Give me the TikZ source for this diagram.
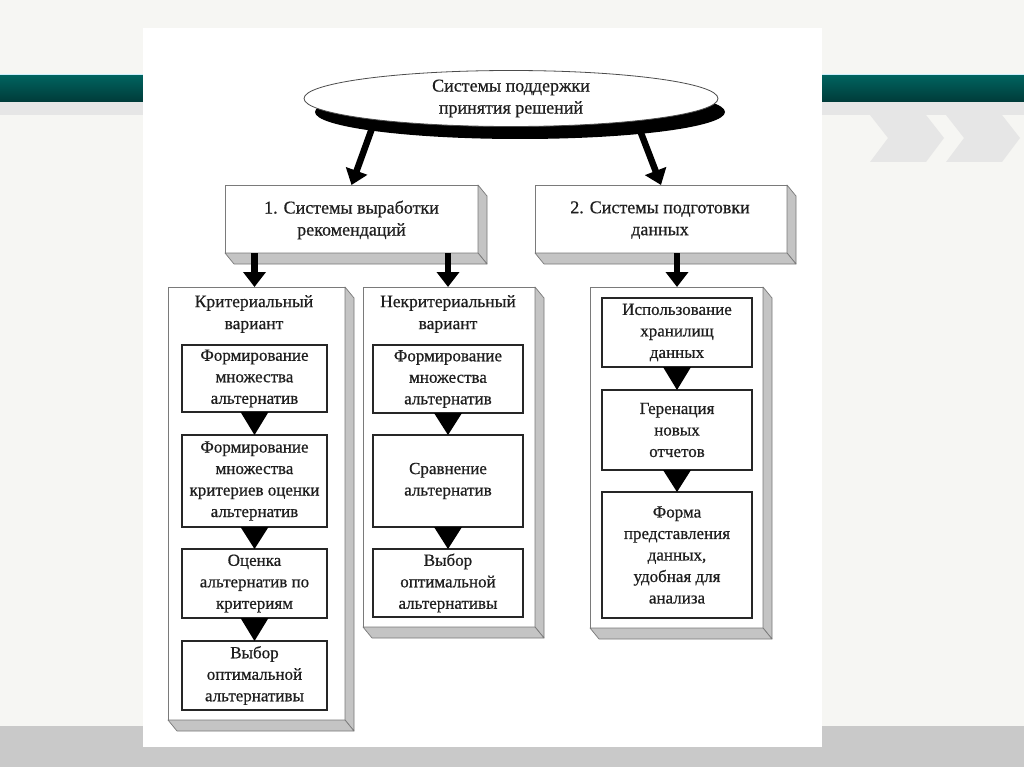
\documentclass[tikz,border=0pt]{standalone}
\usepackage{fontspec}
\setmainfont{Liberation Serif}
\newfontfamily\heavy{Liberation Serif}[FakeBold=0.6]
\usetikzlibrary{shapes.geometric,arrows.meta,calc}
\definecolor{bgc}{HTML}{F6F6F3}
\definecolor{bandgrey}{HTML}{E6E6E6}
\definecolor{bottomgrey}{HTML}{C9C9C9}
\definecolor{tealtop}{HTML}{00635F}
\definecolor{tealbot}{HTML}{003B39}
\definecolor{sidegrey}{HTML}{C4C4C4}
\definecolor{edgegrey}{HTML}{7A7A7A}
\definecolor{txt}{HTML}{1E1E1E}
\begin{document}
\begin{tikzpicture}[x=1pt,y=-1pt,
  outer/.style={draw=edgegrey,fill=white,line width=0.9pt,inner sep=0pt,outer sep=0pt},
  side/.style={draw=edgegrey,fill=sidegrey,line width=0.7pt,line join=round},
  inner/.style={draw=black!85,fill=white,line width=1.1pt,inner sep=0pt,outer sep=0pt,
    align=center,text=txt,font=\heavy\fontsize{17}{21.5}\selectfont},
  lbl/.style={align=center,text=txt,font=\heavy\fontsize{17.5}{22}\selectfont,inner sep=0pt},
  hdr/.style={align=center,text=txt,font=\heavy\fontsize{18}{22}\selectfont,inner sep=0pt},
  bigarrow/.style={line width=6.5pt,-{Triangle[width=22pt,length=15pt]}},
  tri/.style={fill=black}
]
\useasboundingbox (0,0) rectangle (1024,767);
% slide background
\fill[bgc] (0,0) rectangle (1024,767);
\shade[top color=tealtop,bottom color=tealbot] (0,75) rectangle (1024,102);
\draw[cyan!20,line width=0.8pt] (0,74.5) -- (1024,74.5);
\fill[bandgrey] (0,102) rectangle (1024,115);
\fill[bandgrey] (870,115) -- (926,115) -- (944,138) -- (926,162) -- (870,162) -- (888,138) -- cycle;
\fill[bandgrey] (946,115) -- (1002,115) -- (1020,138) -- (1002,162) -- (946,162) -- (964,138) -- cycle;
\fill[bottomgrey] (0,726) rectangle (1024,767);
% white panel
\fill[white] (143,28) rectangle (822,747);

% level 2 boxes
\node[outer,minimum width=253pt,minimum height=68pt] (box1) at (351.5,219) {};
\node[outer,minimum width=252pt,minimum height=68pt] (box2) at (661,219) {};
% columns
\node[outer,minimum width=177pt,minimum height=433pt] (colA) at (256.5,503.5) {};
\node[outer,minimum width=172pt,minimum height=340pt] (colB) at (449,457) {};
\node[outer,minimum width=173pt,minimum height=341pt] (colC) at (676.5,457.5) {};
\foreach \n in {box1,box2,colA,colB,colC}{
  \draw[side] (\n.north east) -- ++(9,11) -- ($(\n.south east)+(9,11)$) -- (\n.south east) -- cycle;
  \draw[side] (\n.south west) -- ++(9,11) -- ($(\n.south east)+(9,11)$) -- (\n.south east) -- cycle;
}
\node[hdr] at (351.5,220) {1. Системы выработки\\рекомендаций};
\node[hdr] at (660,220) {2. Системы подготовки\\данных};
\node[lbl] (tA) at (254,314) {Критериальный\\вариант};
\node[lbl] (tB) at (448,314) {Некритериальный\\вариант};

% inner boxes column A
\node[inner,minimum width=145pt,minimum height=67pt] (A1) at (254.5,378.5) {Формирование\\множества\\альтернатив};
\node[inner,minimum width=145pt,minimum height=92pt] (A2) at (254.5,481) {Формирование\\множества\\критериев оценки\\альтернатив};
\node[inner,minimum width=145pt,minimum height=69pt] (A3) at (254.5,583.5) {Оценка\\альтернатив по\\критериям};
\node[inner,minimum width=145pt,minimum height=69pt] (A4) at (254.5,675.5) {Выбор\\оптимальной\\альтернативы};
% column B
\node[inner,minimum width=150pt,minimum height=68pt] (B1) at (448,379) {Формирование\\множества\\альтернатив};
\node[inner,minimum width=150pt,minimum height=92pt] (B2) at (448,481) {Сравнение\\альтернатив};
\node[inner,minimum width=150pt,minimum height=68pt] (B3) at (448,583) {Выбор\\оптимальной\\альтернативы};
% column C
\node[inner,minimum width=150pt,minimum height=69pt] (C1) at (677,332.5) {Использование\\хранилищ\\данных};
\node[inner,minimum width=150pt,minimum height=80pt] (C2) at (677,430) {Геренация\\новых\\отчетов};
\node[inner,minimum width=150pt,minimum height=126pt] (C3) at (677,555) {Форма\\представления\\данных,\\удобная для\\анализа};

% triangles between inner boxes
\foreach \a/\b in {A1/A2,A2/A3,A3/A4,B1/B2,B2/B3,C1/C2,C2/C3}{
  \fill[tri] ($(\a.south)+(-14,0)$) -- ($(\a.south)+(14,0)$) -- (\b.north) -- cycle;
}

% arrows from level 2 boxes to columns
\draw[bigarrow] (box1.south -| A1.north) -- (A1.north |- colA.north);
\draw[bigarrow] (box1.south -| B1.north) -- (B1.north |- colB.north);
\draw[bigarrow] (box2.south -| C1.north) -- (C1.north |- colC.north);

% top ellipse
\coordinate (e1) at (375,120);
\coordinate (e2) at (636,120);
\draw[bigarrow] (e1) -- (box1.north);
\draw[bigarrow] (e2) -- (box2.north);
\node[ellipse,fill=black,minimum width=410pt,minimum height=54pt,inner sep=0pt] (shad) at (520,112) {};
\node[ellipse,draw=black!70,fill=white,line width=0.8pt,minimum width=414pt,minimum height=56pt,inner sep=0pt,
  hdr] (top) at (511,98.5) {Системы поддержки\\принятия решений};
\end{tikzpicture}
\end{document}
